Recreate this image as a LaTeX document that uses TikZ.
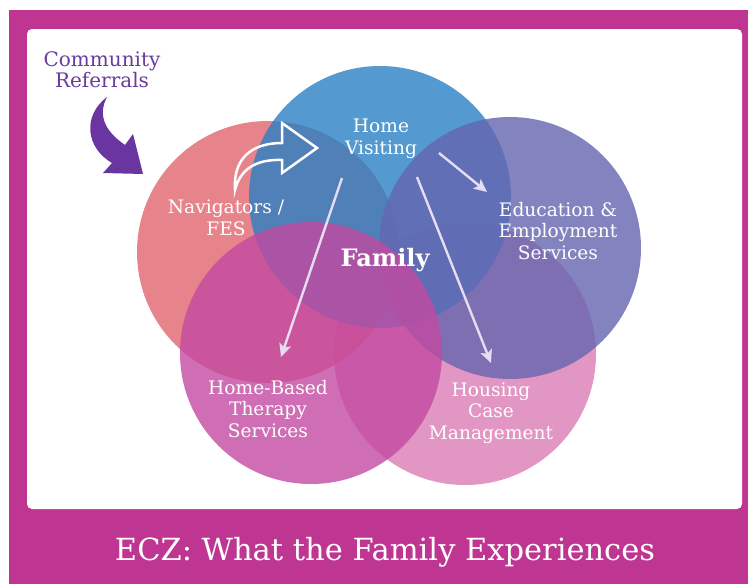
\documentclass[tikz,border=0pt]{standalone}
\usepackage{fontspec}
\setmainfont{DejaVu Serif}
\usetikzlibrary{arrows.meta}
\definecolor{framec}{HTML}{BE3592}
\definecolor{commc}{HTML}{6A3C9C}
\definecolor{arrc}{HTML}{6A35A0}
\definecolor{lav}{HTML}{E6DDF2}
\definecolor{cred}{HTML}{E2666F}
\definecolor{cblue}{HTML}{2A80C4}
\definecolor{cpurple}{HTML}{6566B0}
\definecolor{cmag}{HTML}{C34AA2}
\definecolor{cpink}{HTML}{DB7CB5}
\tikzset{
  venn/.style={circle, minimum size=262pt, inner sep=0pt, fill opacity=0.8},
  lbl/.style={align=center, text=white, font=\fontsize{18.6}{21.5}\selectfont, inner sep=0pt},
  flow/.style={draw=lav, line width=2.4pt, -{Stealth[length=13pt,width=12pt,inset=3pt]}},
}
\begin{document}
\begin{tikzpicture}[x=1pt,y=-1pt]
\useasboundingbox (0,0) rectangle (748,584);
\fill[white] (0,0) rectangle (748,584);
\fill[framec] (9,10) rectangle (748,584);
\fill[white, rounded corners=5pt] (27,29) rectangle (742,509);
% circles
\node[venn, fill=cpink] (pink) at (465,354) {};
\node[venn, fill=cred] (red) at (268,252) {};
\node[venn, fill=cblue] (blue) at (380,197) {};
\node[venn, fill=cpurple] (purple) at (510,248) {};
\node[venn, fill=cmag] (mag) at (311,353) {};
% labels
\node[lbl] (hv) at (381,139) {Home\\Visiting};
\node[lbl] (nav) at (226,218) {Navigators /\\FES};
\node[lbl] (edu) at (558,231) {Education \&\\Employment\\Services};
\node[lbl, font=\bfseries\fontsize{24}{26}\selectfont] (fam) at (385,260) {Family};
\node[lbl] (hbt) at (268,409) {Home-Based\\Therapy\\Services};
\node[lbl] (hcm) at (491,413) {Housing\\Case\\Management};
\node[align=center, text=commc, font=\fontsize{20}{21}\selectfont, inner sep=0pt] (comm) at (102,70) {Community\\Referrals};
\node[text=white, font=\fontsize{30.5}{34}\selectfont, inner sep=0pt] (title) at (385,552) {ECZ: What the Family Experiences};
% purple curved arrow
\fill[arrc] (107,97) .. controls (82,116) and (86,148) .. (112,163) -- (103,173) -- (143,174) -- (133,134) -- (125,145) .. controls (106,132) and (97,116) .. cycle;
% white outline arrow
\draw[white, line width=2.5pt, line join=miter] (235,190) .. controls (233,160) and (250,143) .. (282,143) -- (282,123) -- (317,148) -- (282,173) -- (282,160) .. controls (255,159) and (240,170) .. cycle;
% flow arrows
\coordinate (a1s) at (439,153); \coordinate (a1e) at (487,192);
\coordinate (a2s) at (342,178); \coordinate (a2e) at (281,357);
\coordinate (a3s) at (417,177); \coordinate (a3e) at (491,363);
\draw[flow] (a1s) -- (a1e);
\draw[flow] (a2s) -- (a2e);
\draw[flow] (a3s) -- (a3e);
\end{tikzpicture}
\end{document}
